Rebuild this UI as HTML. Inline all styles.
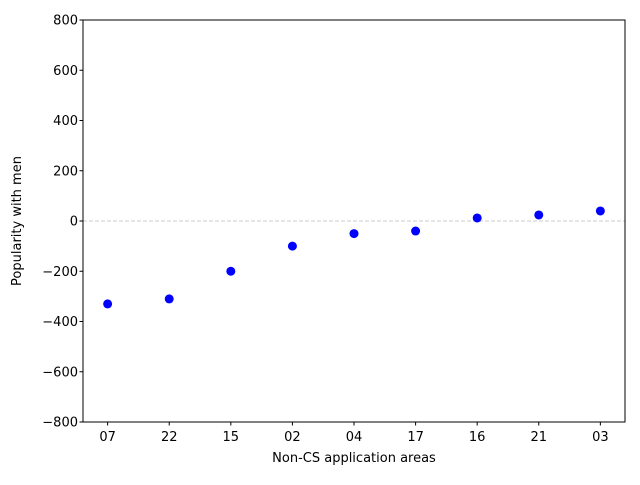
<!DOCTYPE html>
<html><head><meta charset="utf-8"><style>body{margin:0;background:#fff}svg{font-family:"DejaVu Sans","Liberation Sans",sans-serif}</style></head>
<body>
<svg id="chart" width="640" height="480" viewBox="0 0 640 480"></svg>
<script>
const categories=["07","22","15","02","04","17","16","21","03"];
const values=[-330,-310,-200,-100,-50,-40,12,24,40];
const yTicks=[-800,-600,-400,-200,0,200,400,600,800];
const L=83,R=625,T=20,B=422;
const ns="http://www.w3.org/2000/svg";
const svg=document.getElementById('chart');
function x(i){return L+(i+0.4)/(categories.length-1+0.8)*(R-L);}
function y(v){return B-(v+800)/1600*(B-T);}
function el(t,a,p){const e=document.createElementNS(ns,t);for(const k in a)e.setAttribute(k,a[k]);(p||svg).appendChild(e);return e;}
const zl=el('line',{x1:L,x2:R,y1:y(0),y2:y(0),stroke:'#ccc','stroke-dasharray':'4,2','stroke-width':1});


yTicks.forEach(v=>{
 const t=el('line',{x1:L-3.5,x2:L,y1:y(v),y2:y(v),stroke:'#000'});
 
 
 const s=el('text',{x:L-5,y:y(v)+4.5,'text-anchor':'end','font-size':13});
 
 
 s.textContent=v<0?'\u2212'+(-v):v;
});
categories.forEach((c,i)=>{
 const t=el('line',{x1:x(i),x2:x(i),y1:B,y2:B+3.5,stroke:'#000'});
 
 
 const s=el('text',{x:x(i),y:B+19,'text-anchor':'middle','font-size':13});
 
 
 s.textContent=c;
 const p=el('circle',{cx:x(i),cy:y(values[i]),r:4.5,fill:'#0000ff'});
 
 
});
const fr=el('rect',{x:L,y:T,width:R-L,height:B-T,fill:'none',stroke:'#000','stroke-width':1});


const xt=el('text',{x:(L+R)/2,y:462,'text-anchor':'middle','font-size':13});


xt.textContent='Non-CS application areas';
const yt=el('text',{x:21,y:(T+B)/2,'text-anchor':'middle','font-size':13,transform:'rotate(-90 21 '+((T+B)/2)+')'});


yt.textContent='Popularity with men';
</script>
</body></html>
